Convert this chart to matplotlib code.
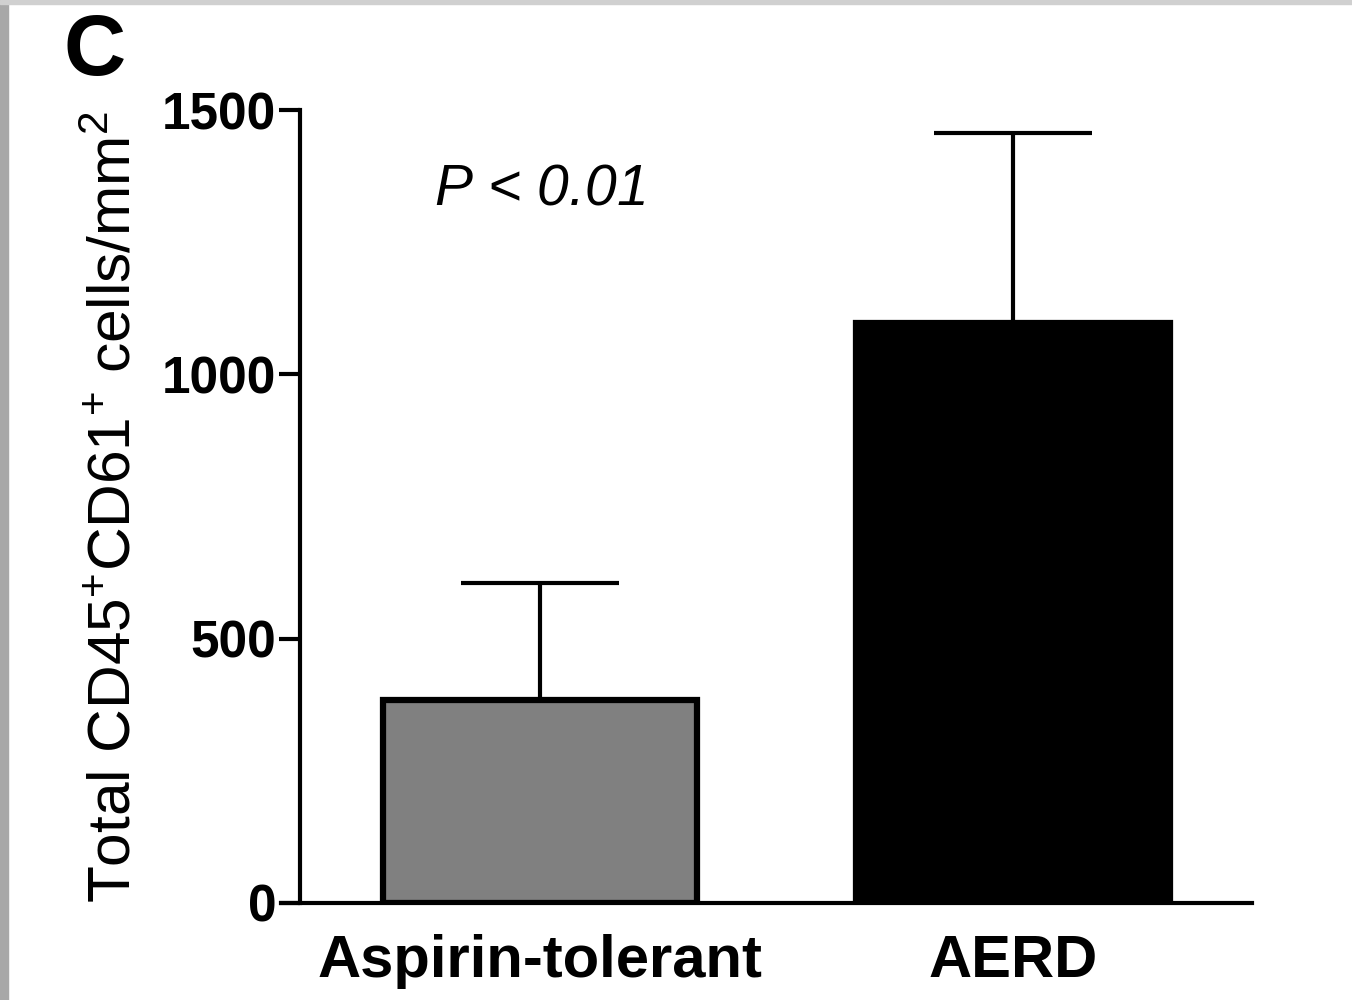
import matplotlib
matplotlib.use('Agg')
import matplotlib.pyplot as plt
from matplotlib.patches import Rectangle

# data
groups = ['Aspirin-tolerant', 'AERD']
means = [384, 1097]
sem_up = [221, 359]
bar_colors = ['#808080', '#000000']

plt.rcParams['font.family'] = ['Liberation Sans', 'DejaVu Sans']
plt.rcParams['mathtext.fontset'] = 'custom'
plt.rcParams['mathtext.rm'] = 'Liberation Sans'
plt.rcParams['mathtext.it'] = 'Liberation Sans:italic'
plt.rcParams['mathtext.bf'] = 'Liberation Sans:bold'

fig = plt.figure(figsize=(13.52, 10), dpi=100)
# slide-like gray border on left and top
fig.patches.append(Rectangle((0, 0), 0.006, 1, transform=fig.transFigure, color='#a8a8a8', zorder=0))
fig.patches.append(Rectangle((0, 0.996), 1, 0.004, transform=fig.transFigure, color='#d0d0d0', zorder=0))

ax = fig.add_axes([0.2219, 0.097, 0.7041, 0.793])

x = [0, 1]
ax.bar(x, means, width=0.665, color=bar_colors, edgecolor='black', linewidth=4.5, zorder=2)
ax.errorbar(x, means, yerr=[[0, 0], sem_up], fmt='none', ecolor='black',
            elinewidth=3, capsize=57, capthick=3, zorder=1)

ax.set_xlim(-0.507, 1.505)
ax.set_ylim(0, 1500)
ax.set_yticks([0, 500, 1000, 1500])
ax.set_xticks(x)
ax.set_xticklabels(groups, fontsize=43, fontweight='bold')
for lab in ax.get_yticklabels():
    lab.set_fontweight('bold')
ax.tick_params(axis='y', length=15, width=3, labelsize=37, pad=2, direction='out')
ax.tick_params(axis='x', length=0, pad=22)

for s in ['top', 'right']:
    ax.spines[s].set_visible(False)
for s in ['left', 'bottom']:
    ax.spines[s].set_linewidth(3)
ax.spines['bottom'].set_bounds(-0.547, 1.505)
ax.spines['bottom'].set_clip_on(False)

ax.set_ylabel('Total CD45$^{+}$CD61$^{+}$ cells/mm$^{2}$', fontsize=43.5, labelpad=14)

ax.text(0.0, 1350, '$\\it{P}$ < 0.01', fontsize=41, style='italic', ha='center', va='center')
fig.text(0.047, 0.947, 'C', fontsize=62, fontweight='bold', ha='left', va='center')

fig.savefig('out.png', dpi=100)
